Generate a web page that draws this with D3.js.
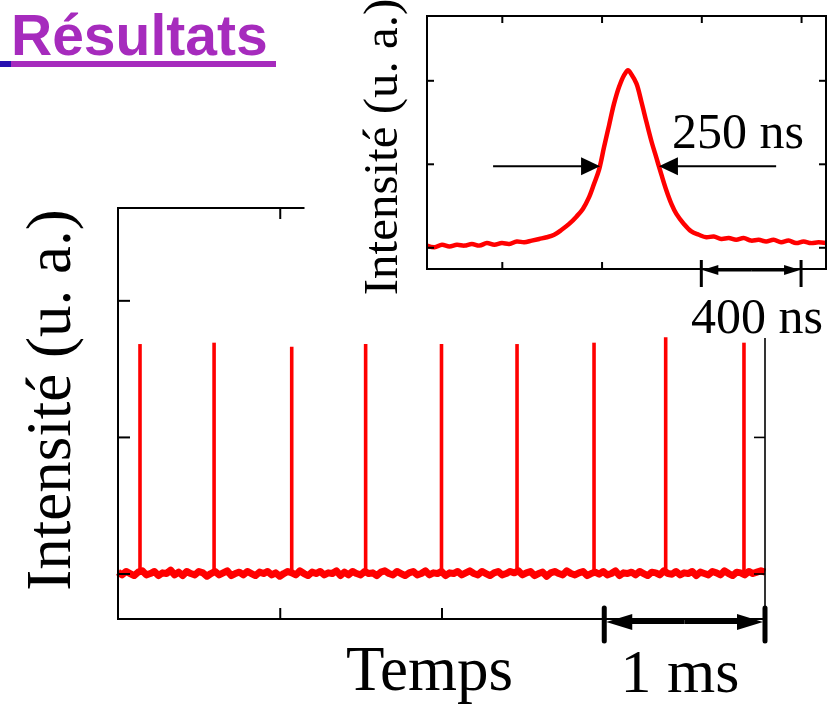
<!DOCTYPE html>
<html><head><meta charset="utf-8">
<script src="https://cdn.jsdelivr.net/npm/d3@7/dist/d3.min.js"></script>
<style>html,body{margin:0;padding:0;background:#fff;}svg{display:block;}
.serif{font-family:"Liberation Serif","Tinos","Times New Roman",Times,"DejaVu Serif",serif;}
.sans{font-family:"Liberation Sans",Arimo,Arial,Helvetica,sans-serif;}
</style>
</head><body>
<script>
// ---- Data ----
// Main chart: pulse train (time in ms, intensity in arbitrary units)
const peakTimes   = [0.136, 0.594, 1.074, 1.531, 2.000, 2.467, 2.943, 3.386, 3.870];
const peakHeights = [1.68, 1.69, 1.66, 1.68, 1.68, 1.68, 1.69, 1.73, 1.69];
const baselineStep = 0.025; // ms between baseline samples
const baselineNoise = [0.01,-0.01,0.015,0.00,-0.015,0.01,0.02,-0.01,0.00,0.015,
  -0.015,0.005,0.00,0.025,-0.01,0.01,-0.015,0.015,0.00,-0.01,
  0.015,0.005,-0.02,0.00,0.015,-0.01,0.005,0.02,-0.015,0.00,
  0.01,-0.01,0.015,0.00,-0.015,0.01,0.00,0.015,-0.01,0.005,
  -0.02,0.00,0.015,0.005,-0.01,0.02,0.00,-0.015,0.01,0.00,
  0.015,-0.01,0.005,0.00,0.02,-0.015,0.01,-0.01,0.015,0.00,
  -0.01,0.015,0.00,0.005,-0.015,0.01,0.02,0.00,-0.01,0.015,
  0.00,-0.015,0.005,0.015,-0.01,0.00,0.02,-0.01,0.005,0.00,
  0.015,-0.015,0.005,0.00,0.015,-0.01,0.005,0.02,0.00,-0.01,
  0.015,0.00,-0.015,0.005,0.015,-0.01,0.00,0.015,0.005,0.02,
  -0.01,0.005,0.015,-0.015,0.00,0.01,-0.02,0.005,0.015,0.00,
  -0.01,0.02,0.00,-0.01,0.005,0.015,-0.015,0.00,0.01,-0.005,
  0.015,-0.01,0.00,0.02,-0.015,0.005,0.00,0.01,-0.01,0.015,
  0.00,-0.015,0.01,0.005,-0.01,0.02,0.00,-0.005,0.015,-0.01,
  0.005,0.00,0.015,-0.015,0.01,0.00,-0.01,0.015,0.005,-0.01,
  0.02,0.00,-0.015,0.01,0.005,-0.01,0.015,0.00,0.01,0.02,0.01];
const mainXTicks = [1, 2, 3];
const mainYTicks = [0, 1, 2];

// Inset: single pulse (time in ns, intensity in arbitrary units)
const insetTimes = [100,130,160,190,220,250,280,310,340,370,400,430,460,490,520,550,580,610,640,670,
  700,725,750,770,790,810,830,850,870,890,906,920,940,960,980,1000,1020,1040,1060,1080,
  1100,1130,1160,1190,1220,1250,1280,1310,1340,1370,1400,1430,1460,1490,1520,1550,1580,1610,1640,1670,1700];
const insetValues = [0.02,0.00,0.03,0.01,0.03,0.02,0.04,0.02,0.05,0.03,0.05,0.04,0.07,0.06,0.08,0.10,0.12,0.15,0.21,0.28,
  0.37,0.46,0.60,0.76,0.93,1.20,1.46,1.72,1.92,2.06,2.12,2.07,1.96,1.74,1.50,1.27,1.07,0.87,0.68,0.52,
  0.40,0.28,0.19,0.15,0.12,0.13,0.10,0.11,0.09,0.11,0.08,0.09,0.07,0.09,0.06,0.08,0.05,0.07,0.05,0.06,0.05];
const insetXTicks = [400, 800, 1200, 1600];
const insetYTicks = [0, 1, 2];
const fwhm = {left: 794, right: 1030, level: 0.97, from: 365, to: 1500};
const insetBar = {start: 1200, end: 1600};
const mainBar = {start: 3, end: 4};

const titleText = "Résultats";
const yLabel = "Intensité (u. a.)";
const xLabel = "Temps";
const mainBarLabel = "1 ms";
const fwhmLabel = "250 ns";
const insetBarLabel = "400 ns";

// ---- Drawing ----
const W = 835, H = 704;
const RED = "#ff0000";
const svg = d3.select("body").append("svg").attr("width", W).attr("height", H);

// Title
svg.append("text").attr("class", "sans").attr("x", 11).attr("y", 55).attr("font-weight", "bold")
  .attr("font-size", 57).attr("fill", "#a62bbd").text(titleText);
svg.append("rect").attr("x", 11).attr("y", 61).attr("width", 265).attr("height", 6).attr("fill", "#a62bbd");
svg.append("rect").attr("x", 0).attr("y", 61).attr("width", 11).attr("height", 6).attr("fill", "#2810b0");

// Main chart scales
const xM = d3.scaleLinear().domain([0, 4]).range([118, 765]);
const yM = d3.scaleLinear().domain([-0.333, 2.676]).range([619, 208]);

// baseline
const baseData = baselineNoise.map((v, i) => [i * baselineStep, v]);
svg.append("path").datum(baseData)
  .attr("d", d3.line().x(d => xM(d[0])).y(d => yM(d[1])))
  .attr("fill", "none").attr("stroke", RED).attr("stroke-width", 7).attr("stroke-linejoin", "round");
// peaks
svg.selectAll("line.peak").data(peakTimes).enter().append("line")
  .attr("x1", d => xM(d)).attr("x2", d => xM(d))
  .attr("y1", yM(0)).attr("y2", (d, i) => yM(peakHeights[i]))
  .attr("stroke", RED).attr("stroke-width", 3.6);

// Main axes
function styleAxis(g, w) {
  g.select(".domain").remove();
  g.selectAll(".tick line").attr("stroke", "#000").attr("stroke-width", w);
  g.selectAll(".tick text").remove();
}
const gB = svg.append("g").attr("transform", `translate(0,${yM.range()[0]})`)
  .call(d3.axisBottom(xM).tickValues(mainXTicks).tickSize(-11).tickFormat(""));
styleAxis(gB, 2);
svg.append("line").attr("x1", xM(0) - 1).attr("x2", xM(4)).attr("y1", 619).attr("y2", 619)
  .attr("stroke", "#000").attr("stroke-width", 2);

const gT = svg.append("g").attr("transform", `translate(0,208)`)
  .call(d3.axisTop(xM).tickValues([1]).tickSize(-11).tickFormat(""));
styleAxis(gT, 2);
svg.append("line").attr("x1", xM(0) - 1).attr("x2", xM(1.153)).attr("y1", 208).attr("y2", 208)
  .attr("stroke", "#000").attr("stroke-width", 2);

const gL = svg.append("g").attr("transform", `translate(${xM(0)},0)`)
  .call(d3.axisLeft(yM).tickValues(mainYTicks).tickSize(-12).tickFormat(""));
styleAxis(gL, 2);
svg.append("line").attr("x1", xM(0)).attr("x2", xM(0)).attr("y1", 207).attr("y2", 620)
  .attr("stroke", "#000").attr("stroke-width", 2);

const gR = svg.append("g").attr("transform", `translate(${xM(4)},0)`)
  .call(d3.axisRight(yM).tickValues([0, 1]).tickSize(-11).tickFormat(""));
styleAxis(gR, 1.6);
svg.append("line").attr("x1", xM(4)).attr("x2", xM(4)).attr("y1", 338).attr("y2", 620)
  .attr("stroke", "#000").attr("stroke-width", 1.6);

// Arrow helper
function hArrow(g, xFrom, xTip, y, len, half, lw) {
  const dir = xTip > xFrom ? 1 : -1;
  g.append("line").attr("x1", xFrom).attr("x2", xTip - dir * len * 0.5).attr("y1", y).attr("y2", y)
    .attr("stroke", "#000").attr("stroke-width", lw);
  g.append("path")
    .attr("d", `M${xTip},${y} L${xTip - dir * len},${y - half} L${xTip - dir * len},${y + half} Z`)
    .attr("fill", "#000");
}
// Main scale bar (1 ms)
{
  const x0 = xM(mainBar.start) + 1, x1 = xM(mainBar.end), y = 622;
  const mid = (x0 + x1) / 2;
  hArrow(svg, mid, x0 + 2, y, 26, 8, 4);
  hArrow(svg, mid, x1 - 2, y, 26, 8, 4);
  [x0, x1].forEach(x => svg.append("line").attr("x1", x).attr("x2", x).attr("y1", 608).attr("y2", 641)
    .attr("stroke", "#000").attr("stroke-width", 5).attr("stroke-linecap", "round"));
}

// Main labels
svg.append("text").attr("class", "serif").attr("transform", "translate(70,400) rotate(-90)")
  .attr("text-anchor", "middle").attr("font-size", 63).attr("fill", "#000").text(yLabel);
svg.append("text").attr("class", "serif").attr("x", 346).attr("y", 690).attr("font-size", 63)
  .attr("fill", "#000").text(xLabel);
svg.append("text").attr("class", "serif").attr("x", 680).attr("y", 692).attr("text-anchor", "middle")
  .attr("font-size", 62).attr("fill", "#000").text(mainBarLabel);

// ---- Inset ----
const xI = d3.scaleLinear().domain([100, 1700]).range([427, 826]);
const yI = d3.scaleLinear().domain([-0.26, 2.77]).range([269, 16]);
svg.append("rect").attr("x", 427).attr("y", 16).attr("width", 399).attr("height", 253).attr("fill", "#fff");
svg.append("clipPath").attr("id", "insetClip").append("rect")
  .attr("x", 427).attr("y", 16).attr("width", 399).attr("height", 253);
svg.append("path").datum(insetTimes.map((t, i) => [t, insetValues[i]]))
  .attr("clip-path", "url(#insetClip)")
  .attr("d", d3.line().x(d => xI(d[0])).y(d => yI(d[1])).curve(d3.curveCatmullRom))
  .attr("fill", "none").attr("stroke", RED).attr("stroke-width", 4.5).attr("stroke-linejoin", "round");

const giT = svg.append("g").attr("transform", "translate(0,16)")
  .call(d3.axisTop(xI).tickValues(insetXTicks).tickSize(-7).tickFormat(""));
styleAxis(giT, 2);
const giB = svg.append("g").attr("transform", "translate(0,269)")
  .call(d3.axisBottom(xI).tickValues(insetXTicks.slice(0, 2)).tickSize(-7).tickFormat(""));
styleAxis(giB, 2);
const giL = svg.append("g").attr("transform", "translate(427,0)")
  .call(d3.axisLeft(yI).tickValues(insetYTicks).tickSize(-7).tickFormat(""));
styleAxis(giL, 2);
const giR = svg.append("g").attr("transform", "translate(826,0)")
  .call(d3.axisRight(yI).tickValues(insetYTicks).tickSize(-7).tickFormat(""));
styleAxis(giR, 2);
svg.append("rect").attr("x", 427).attr("y", 16).attr("width", 399).attr("height", 253)
  .attr("fill", "none").attr("stroke", "#000").attr("stroke-width", 2);

// FWHM arrows
hArrow(svg, xI(fwhm.from), xI(fwhm.left), yI(fwhm.level), 19, 9, 2);
hArrow(svg, xI(fwhm.to), xI(fwhm.right), yI(fwhm.level), 19, 9, 2);

// 400 ns bar
{
  const x0 = xI(insetBar.start), x1 = xI(insetBar.end), y = 270;
  const mid = (x0 + x1) / 2;
  hArrow(svg, mid, x0 + 1, y, 16, 5, 3);
  hArrow(svg, mid, x1 - 1, y, 16, 5, 3);
  [x0, x1].forEach(x => svg.append("line").attr("x1", x).attr("x2", x).attr("y1", 260).attr("y2", 287)
    .attr("stroke", "#000").attr("stroke-width", 3));
}

// Inset labels
svg.append("text").attr("class", "serif").attr("transform", "translate(397,147) rotate(-90)")
  .attr("text-anchor", "middle").attr("font-size", 49).attr("fill", "#000").text(yLabel);
svg.append("text").attr("class", "serif").attr("x", 738).attr("y", 148).attr("text-anchor", "middle")
  .attr("font-size", 50).attr("fill", "#000").text(fwhmLabel);
svg.append("text").attr("class", "serif").attr("x", 757).attr("y", 333).attr("text-anchor", "middle")
  .attr("font-size", 50).attr("fill", "#000").text(insetBarLabel);
</script>
</body></html>
